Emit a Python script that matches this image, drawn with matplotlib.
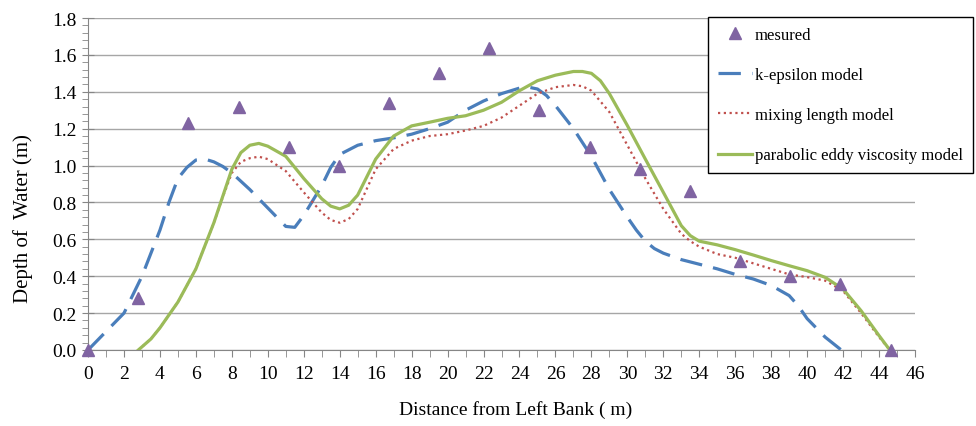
import matplotlib
matplotlib.use("Agg")
import matplotlib.pyplot as plt
from matplotlib.ticker import MultipleLocator
from matplotlib.lines import Line2D

# measured points
meas_x = [0.0, 2.79, 5.58, 8.37, 11.16, 13.95, 16.74, 19.53, 22.32, 25.11,
          27.9, 30.69, 33.48, 36.27, 39.06, 41.85, 44.64]
meas_y = [0.0, 0.28, 1.23, 1.32, 1.10, 1.00, 1.34, 1.50, 1.64, 1.30,
          1.10, 0.98, 0.86, 0.48, 0.40, 0.36, 0.0]

# k-epsilon model
ke_x = [0, 1, 2, 3, 4, 4.5, 5, 5.5, 6, 6.5, 7, 7.5, 8, 9, 10, 11, 11.5, 12, 12.5,
        13, 13.5, 14, 15, 16, 17, 18, 19, 20, 21, 22, 23, 24, 24.5, 25, 25.5, 26,
        27, 28, 29, 30, 30.5, 31, 31.5, 32, 33, 34, 35, 36, 37, 38, 39, 39.5, 40,
        41, 41.9]
ke_y = [0.0, 0.10, 0.20, 0.40, 0.65, 0.80, 0.93, 0.99, 1.03, 1.035, 1.02, 0.995,
        0.96, 0.87, 0.77, 0.67, 0.665, 0.73, 0.81, 0.89, 0.99, 1.06, 1.11, 1.135,
        1.15, 1.17, 1.20, 1.235, 1.30, 1.35, 1.39, 1.42, 1.425, 1.415, 1.38,
        1.325, 1.20, 1.05, 0.87, 0.72, 0.65, 0.59, 0.55, 0.525, 0.49, 0.465,
        0.44, 0.41, 0.385, 0.35, 0.295, 0.24, 0.17, 0.07, 0.0]

# mixing length model
ml_x = [2.8, 3.5, 4, 5, 6, 7, 7.5, 8, 8.5, 9, 9.5, 10, 11, 12, 13, 13.5, 14, 14.5,
        15, 16, 17, 18, 19, 20, 21, 22, 23, 24, 25, 26, 27, 27.5, 28, 29, 30, 31,
        32, 33, 33.5, 34, 35, 36, 37, 38, 39, 40, 41, 42, 43, 44, 44.6]
ml_y = [0.0, 0.06, 0.12, 0.26, 0.44, 0.69, 0.83, 0.96, 1.02, 1.04, 1.048, 1.035,
        0.97, 0.855, 0.745, 0.705, 0.69, 0.71, 0.765, 0.98, 1.09, 1.135, 1.16,
        1.17, 1.19, 1.215, 1.26, 1.325, 1.39, 1.425, 1.437, 1.43, 1.406, 1.29,
        1.11, 0.93, 0.765, 0.63, 0.59, 0.56, 0.52, 0.50, 0.47, 0.44, 0.41,
        0.395, 0.376, 0.32, 0.20, 0.07, 0.0]

# parabolic eddy viscosity model
pe_x = [2.8, 3.5, 4, 5, 6, 7, 7.5, 8, 8.5, 9, 9.5, 10, 11, 12, 13, 13.5, 14,
        14.5, 15, 16, 17, 18, 19, 20, 21, 22, 23, 24, 25, 26, 27, 27.5, 28, 28.5,
        29, 30, 31, 32, 33, 33.5, 34, 35, 36, 37, 38, 39, 40, 41, 42, 43, 44, 44.6]
pe_y = [0.0, 0.06, 0.12, 0.26, 0.44, 0.69, 0.835, 0.98, 1.07, 1.11, 1.12, 1.105,
        1.05, 0.93, 0.82, 0.78, 0.765, 0.785, 0.84, 1.035, 1.16, 1.215, 1.235,
        1.256, 1.27, 1.30, 1.343, 1.406, 1.46, 1.49, 1.51, 1.51, 1.50, 1.46,
        1.39, 1.217, 1.035, 0.855, 0.674, 0.62, 0.59, 0.57, 0.544, 0.515, 0.485,
        0.457, 0.43, 0.394, 0.33, 0.213, 0.078, 0.0]

labels = ["mesured", "k-epsilon model", "mixing length model",
          "parabolic eddy viscosity model"]

plt.rcParams['font.family'] = ['Liberation Serif', 'DejaVu Serif']

fig = plt.figure(figsize=(9.76, 4.27), dpi=100)
ax = fig.add_axes([0.0902, 0.178, 0.8473, 0.7775])

ax.plot(ke_x, ke_y, color='#4a7ebb', lw=2.3, dashes=(7, 3.5), zorder=3)
ax.plot(ml_x, ml_y, color='#c0504d', lw=1.6, linestyle=(0, (1, 1.6)), zorder=3)
ax.plot(pe_x, pe_y, color='#9bbb59', lw=2.3, zorder=3)
ax.plot(meas_x, meas_y, linestyle='none', marker='^', ms=8, color='#8064a2',
        zorder=4, clip_on=False)

ax.set_xlim(0, 46)
ax.set_ylim(0, 1.8)
ax.xaxis.set_major_locator(MultipleLocator(2))
ax.xaxis.set_minor_locator(MultipleLocator(1))
ax.yaxis.set_major_locator(MultipleLocator(0.2))
ax.yaxis.set_minor_locator(MultipleLocator(0.04))
ax.yaxis.set_major_formatter(plt.FuncFormatter(lambda v, p: f"{v:.1f}"))

ax.grid(axis='y', which='major', color='#a6a6a6', lw=1.0)
ax.set_axisbelow(True)
for s in ['top', 'right']:
    ax.spines[s].set_visible(False)
for s in ['left', 'bottom']:
    ax.spines[s].set_color('#868686')
ax.tick_params(axis='y', which='major', direction='inout', length=9,
               color='#868686', labelsize=14, pad=4)
ax.tick_params(axis='y', which='minor', direction='out', length=4,
               color='#868686')
ax.tick_params(axis='x', which='both', direction='out', length=5,
               color='#868686', labelsize=14, pad=6)

ax.set_xlabel("Distance from Left Bank ( m)", fontsize=14)
ax.set_ylabel("Depth of  Water (m)", fontsize=15)
ax.xaxis.set_label_coords(0.517, -0.15)
ax.yaxis.set_label_coords(-0.066, 0.40)

handles = [
    Line2D([], [], linestyle='none', marker='^', ms=8, color='#8064a2'),
    Line2D([], [], color='#4a7ebb', lw=2.3, dashes=(7, 3.5)),
    Line2D([], [], color='#c0504d', lw=1.6, linestyle=(0, (1, 1.6))),
    Line2D([], [], color='#9bbb59', lw=2.3),
]
leg = fig.legend(handles, labels, loc='upper right',
                 bbox_to_anchor=(0.997, 0.958), fontsize=12, frameon=True,
                 fancybox=False, edgecolor='black', framealpha=1,
                 handlelength=2.0, handletextpad=0.2, labelspacing=1.45,
                 borderpad=0.6, borderaxespad=0)
leg.get_frame().set_linewidth(1.0)

fig.savefig("out.png", dpi=100)
